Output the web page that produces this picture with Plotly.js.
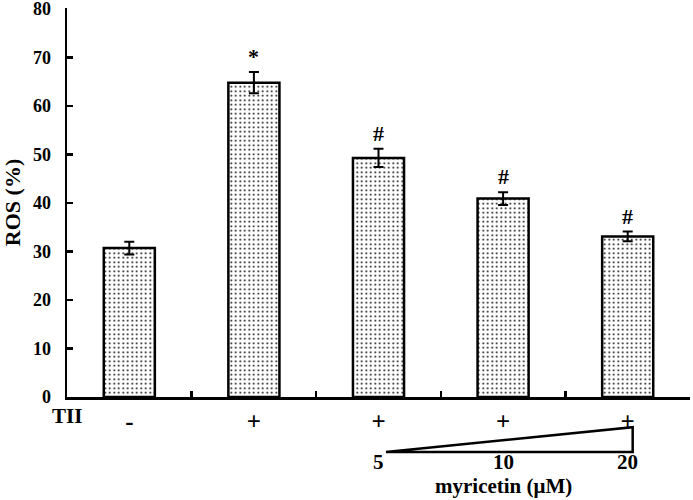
<!DOCTYPE html>
<html>
<head>
<meta charset="utf-8">
<script src="https://cdn.plot.ly/plotly-3.0.1.min.js"></script>
<style>html,body{margin:0;padding:0;background:#fff;}#chart{width:693px;height:500px;}</style>
</head>
<body>
<div id="chart"></div>
<script>
var categories = ["control", "TII", "TII+M5", "TII+M10", "TII+M20"];
var tiiSigns = ["-", "+", "+", "+", "+"];
var rosValues = [30.7, 64.8, 49.3, 40.9, 33.1];
var rosErrors = [1.3, 2.2, 1.9, 1.3, 1.0];
var marks = ["", "*", "#", "#", "#"];
var doseLabels = ["5", "10", "20"];
var doseCategories = ["TII+M5", "TII+M10", "TII+M20"];
var yTicks = [0, 10, 20, 30, 40, 50, 60, 70, 80];

var FONT = "Liberation Serif, Times New Roman, serif";

var trace = {
  type: "bar",
  x: categories,
  y: rosValues,
  width: 0.41,
  marker: {
    color: "white",
    line: {color: "black", width: 2.5},
    pattern: {shape: ".", fgcolor: "black", bgcolor: "white", size: 4.5, solidity: 0.14}
  },
  error_y: {type: "data", array: rosErrors, visible: true, color: "black", thickness: 2, width: 5},
  hoverinfo: "skip"
};

var annotations = [];
for (var i = 0; i < categories.length; i++) {
  if (marks[i]) {
    annotations.push({
      x: categories[i], y: rosValues[i] + rosErrors[i], xref: "x", yref: "y",
      text: "<b>" + marks[i] + "</b>", showarrow: false, yanchor: "bottom", yshift: 1,
      font: {family: FONT, size: 22, color: "black"}
    });
  }
}
annotations.push({
  x: 0, y: -0.049, xref: "paper", yref: "paper", text: "<b>TII</b>",
  showarrow: false, xanchor: "center", yanchor: "middle",
  font: {family: FONT, size: 21, color: "black"}
});
for (var j = 0; j < doseLabels.length; j++) {
  annotations.push({
    x: doseCategories[j], y: -0.168, xref: "x", yref: "paper", text: "<b>" + doseLabels[j] + "</b>",
    showarrow: false, xanchor: "center", yanchor: "middle",
    font: {family: FONT, size: 21, color: "black"}
  });
}
annotations.push({
  x: "TII+M10", y: -0.228, xref: "x", yref: "paper", text: "<b>myricetin (μM)</b>",
  showarrow: false, xanchor: "center", yanchor: "middle",
  font: {family: FONT, size: 21, color: "black"}
});

var layout = {
  width: 693, height: 500,
  margin: {l: 67, r: 3, t: 8, b: 103},
  paper_bgcolor: "white", plot_bgcolor: "white",
  showlegend: false,
  font: {family: FONT, color: "black"},
  xaxis: {
    type: "category",
    range: [-0.5, 4.5],
    tickmode: "array",
    tickvals: categories,
    ticktext: tiiSigns.map(function(s){return "<b>" + s + "</b>";}),
    tickson: "boundaries",
    ticks: "inside", ticklen: 6, tickwidth: 2.5, tickcolor: "black",
    showline: true, linecolor: "black", linewidth: 2.5,
    showgrid: false, zeroline: false,
    tickfont: {family: FONT, size: 25, color: "black"},
    fixedrange: true
  },
  yaxis: {
    range: [0, 80.2],
    tickmode: "array",
    tickvals: yTicks,
    ticktext: yTicks.map(function(v){return "<b>" + v + "</b>";}),
    ticks: "inside", ticklen: 6, tickwidth: 2.5, tickcolor: "black",
    ticklabeloverflow: "allow",
    showline: true, linecolor: "black", linewidth: 2.5,
    showgrid: false, zeroline: false,
    tickfont: {family: FONT, size: 18, color: "black"},
    ticklabelstandoff: 10,
    title: {text: "<b>ROS (%)</b>", font: {family: FONT, size: 22, color: "black"}, standoff: 10},
    fixedrange: true
  },
  shapes: [{
    type: "path",
    xref: "x", yref: "paper",
    path: "M 2.06 -0.1415 L 4.04 -0.1415 L 4.04 -0.0775 Z",
    line: {color: "black", width: 2.5},
    fillcolor: "white"
  }],
  annotations: annotations
};

Plotly.newPlot("chart", [trace], layout, {displayModeBar: false, staticPlot: true});
</script>
</body>
</html>
